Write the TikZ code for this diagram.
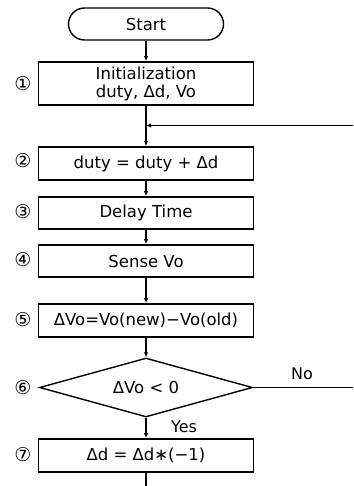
\documentclass[tikz,border=0pt]{standalone}
\usepackage{fontspec}
\setmainfont{DejaVu Sans}
\usetikzlibrary{shapes.geometric,arrows.meta}
\begin{document}
\begin{tikzpicture}[x=1pt,y=-1pt,
  every node/.style={font=\fontsize{16.5}{19}\selectfont, inner sep=0pt},
  procbox/.style={draw, line width=1.8pt, minimum width=215pt, anchor=center},
  term/.style={draw, line width=1.4pt, rounded corners=16pt, minimum width=155pt, minimum height=32pt},
  decision/.style={draw, line width=1.4pt, diamond, aspect=3.6, minimum width=213pt, minimum height=59pt, inner sep=0pt},
  num/.style={font=\fontsize{19}{21}\selectfont},
  flow/.style={line width=1.4pt, -{Latex[length=5pt,width=4.5pt]}},
  plain/.style={line width=1.4pt},
  lbl/.style={font=\fontsize{16}{18}\selectfont}
]
\useasboundingbox (0,0) rectangle (353,486);
\node[term] (start) at (146,24) {Start};
\node[procbox, minimum height=43pt, align=center] (b1) at (146,83.5) {Initialization\\[-1pt]duty, Δd, Vo};
\coordinate (j) at (146,125.5);
\node[procbox, minimum height=33pt] (b2) at (146,163.5) {duty = duty + Δd};
\node[procbox, minimum height=32pt] (b3) at (146,213) {Delay Time};
\node[procbox, minimum height=32pt] (b4) at (146,261) {Sense Vo};
\node[procbox, minimum height=33pt] (b5) at (146,320.5) {ΔVo=Vo(new)−Vo(old)};
\node[decision] (d6) at (146,387.5) {ΔVo < 0};
\node[procbox, minimum height=33pt] (b7) at (146,455.5) {Δd = Δd∗(−1)};
\coordinate (bot) at (146,486);
\coordinate (rno) at (352.5,387.5);
\coordinate (rj) at (352.5,125.5);

\node[num] (n1) at (23,84) {①};
\node[num] (n2) at (23,161) {②};
\node[num] (n3) at (23,211.5) {③};
\node[num] (n4) at (23,259.5) {④};
\node[num] (n5) at (23,320) {⑤};
\node[num] (n6) at (23,388) {⑥};
\node[num] (n7) at (23,455) {⑦};

\node[lbl] (no) at (302,374) {No};
\node[lbl] (yes) at (184,427) {Yes};

\draw[flow] (start) -- (b1);
\draw[plain] (b1) -- (j);
\draw[flow] (j) -- (b2);
\draw[flow] (rj) -- (j);
\draw[flow] (b2) -- (b3);
\draw[flow] (b3) -- (b4);
\draw[flow] (b4) -- (b5);
\draw[flow] (b5) -- (d6);
\draw[flow] (d6) -- (b7);
\draw[plain] (d6.east) -- (rno);
\draw[plain] (b7) -- (bot);
\end{tikzpicture}
\end{document}
